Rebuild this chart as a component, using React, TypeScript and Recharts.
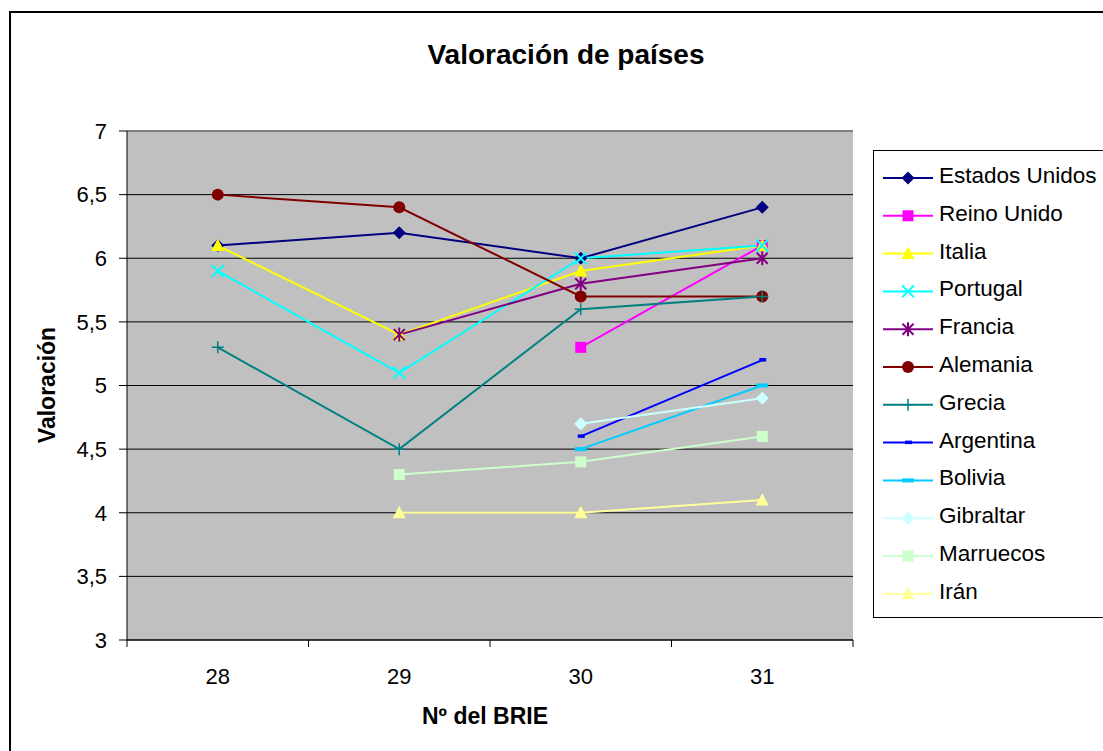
import React from "react";
import { LineChart, Line, XAxis, YAxis, CartesianGrid, ReferenceLine } from "recharts";

const categories = ["28", "29", "30", "31"];
const yTicks = [3, 3.5, 4, 4.5, 5, 5.5, 6, 6.5, 7];

const estadosUnidos = [6.1, 6.2, 6.0, 6.4];
const reinoUnido = [null, null, 5.3, 6.1];
const italia = [6.1, 5.4, 5.9, 6.1];
const portugal = [5.9, 5.1, 6.0, 6.1];
const francia = [null, 5.4, 5.8, 6.0];
const alemania = [6.5, 6.4, 5.7, 5.7];
const grecia = [5.3, 4.5, 5.6, 5.7];
const argentina = [null, null, 4.6, 5.2];
const bolivia = [null, null, 4.5, 5.0];
const gibraltar = [null, null, 4.7, 4.9];
const marruecos = [null, 4.3, 4.4, 4.6];
const iran = [null, 4.0, 4.0, 4.1];

type Marker = "diamond" | "square" | "triangle" | "x" | "star" | "circle" | "plus" | "dash" | "bar";

const series: { name: string; key: string; values: (number | null)[]; color: string; marker: Marker }[] = [
  { name: "Estados Unidos", key: "eu", values: estadosUnidos, color: "#000080", marker: "diamond" },
  { name: "Reino Unido", key: "ru", values: reinoUnido, color: "#FF00FF", marker: "square" },
  { name: "Italia", key: "it", values: italia, color: "#FFFF00", marker: "triangle" },
  { name: "Portugal", key: "pt", values: portugal, color: "#00FFFF", marker: "x" },
  { name: "Francia", key: "fr", values: francia, color: "#800080", marker: "star" },
  { name: "Alemania", key: "de", values: alemania, color: "#800000", marker: "circle" },
  { name: "Grecia", key: "gr", values: grecia, color: "#008080", marker: "plus" },
  { name: "Argentina", key: "ar", values: argentina, color: "#0000FF", marker: "dash" },
  { name: "Bolivia", key: "bo", values: bolivia, color: "#00CCFF", marker: "bar" },
  { name: "Gibraltar", key: "gi", values: gibraltar, color: "#CCFFFF", marker: "diamond" },
  { name: "Marruecos", key: "ma", values: marruecos, color: "#CCFFCC", marker: "square" },
  { name: "Irán", key: "ir", values: iran, color: "#FFFF99", marker: "triangle" },
];

const data = categories.map((c, i) => {
  const row: Record<string, any> = { cat: c };
  series.forEach((s) => (row[s.key] = s.values[i]));
  return row;
});

const FONT = "'Liberation Sans', Arial, sans-serif";
const BAND = 181.5;

function drawMarker(m: Marker, cx: number, cy: number, color: string) {
  switch (m) {
    case "diamond":
      return <path d={`M${cx},${cy - 6.5}L${cx + 6.5},${cy}L${cx},${cy + 6.5}L${cx - 6.5},${cy}Z`} fill={color} />;
    case "square":
      return <rect x={cx - 5.5} y={cy - 5.5} width={11} height={11} fill={color} />;
    case "triangle":
      return <path d={`M${cx},${cy - 7}L${cx + 6.5},${cy + 5.5}L${cx - 6.5},${cy + 5.5}Z`} fill={color} />;
    case "x":
      return (
        <path d={`M${cx - 6},${cy - 6}L${cx + 6},${cy + 6}M${cx + 6},${cy - 6}L${cx - 6},${cy + 6}`} stroke={color} strokeWidth={2} />
      );
    case "star":
      return (
        <path
          d={`M${cx - 5.5},${cy - 5.5}L${cx + 5.5},${cy + 5.5}M${cx + 5.5},${cy - 5.5}L${cx - 5.5},${cy + 5.5}M${cx},${cy - 7}L${cx},${cy + 7}`}
          stroke={color}
          strokeWidth={2}
        />
      );
    case "circle":
      return <circle cx={cx} cy={cy} r={6} fill={color} />;
    case "plus":
      return <path d={`M${cx - 6},${cy}L${cx + 6},${cy}M${cx},${cy - 6}L${cx},${cy + 6}`} stroke={color} strokeWidth={1.5} />;
    case "dash":
      return <rect x={cx - 3} y={cy - 2} width={7} height={3.5} fill={color} />;
    case "bar":
      return <rect x={cx - 6} y={cy - 2} width={12} height={4} fill={color} />;
  }
}

const makeDot = (m: Marker, color: string) => (props: any) => {
  const { cx, cy, index } = props;
  if (cx == null || cy == null || props.value == null) return <g key={`d${index}`} />;
  return <g key={`d${index}`}>{drawMarker(m, cx, cy, color)}</g>;
};

const CatTick = (props: any) => {
  const { x, y, payload, index } = props;
  return (
    <g>
      <line x1={x - BAND / 2} y1={y} x2={x - BAND / 2} y2={y + 7} stroke="#000" />
      {index === categories.length - 1 && <line x1={x + BAND / 2} y1={y} x2={x + BAND / 2} y2={y + 7} stroke="#000" />}
      <text x={x} y={y + 44} textAnchor="middle" fontSize={22} fontFamily={FONT} fill="#000">
        {payload.value}
      </text>
    </g>
  );
};

export default function App() {
  return (
    <div style={{ position: "absolute", left: 0, top: 0, width: 1103, height: 751, background: "#fff", overflow: "hidden" }}>
      <div
        style={{
          position: "absolute",
          left: 9,
          top: 11,
          width: 1110,
          height: 760,
          border: "2px solid #000",
        }}
      />
      <LineChart
        width={1103}
        height={751}
        data={data}
        margin={{ top: 131, right: 250, bottom: 41, left: 67 }}
        style={{ position: "absolute", left: 0, top: 0 }}
      >
        <text x={566} y={64} textAnchor="middle" fontSize={28} fontWeight="bold" fontFamily={FONT} fill="#000">
          Valoración de países
        </text>
        <CartesianGrid vertical={false} stroke="#000" fill="#C0C0C0" fillOpacity={1} />
        <XAxis
          dataKey="cat"
          height={70}
          padding={{ left: BAND / 2, right: BAND / 2 }}
          tickLine={false}
          tickSize={0}
          tickMargin={0}
          interval={0}
          axisLine={{ stroke: "#000" }}
          tick={<CatTick />}
          label={(p: any) => (
            <text x={485} y={724} textAnchor="middle" fontSize={23} fontWeight="bold" fontFamily={FONT} fill="#000">
              Nº del BRIE
            </text>
          )}
        />
        <YAxis
          width={60}
          domain={[3, 7]}
          ticks={yTicks}
          interval={0}
          tickSize={8}
          tickMargin={12}
          tickLine={{ stroke: "#000" }}
          axisLine={{ stroke: "#000" }}
          tickFormatter={(v: number) => String(v).replace(".", ",")}
          tick={{ fill: "#000", fontSize: 22, fontFamily: FONT }}
          label={(p: any) => (
            <text
              x={47}
              y={385}
              dominantBaseline="central"
              transform="rotate(-90 47 385)"
              textAnchor="middle"
              fontSize={23}
              fontWeight="bold"
              fontFamily={FONT}
              fill="#000"
            >
              Valoración
            </text>
          )}
        />
        <YAxis
          yAxisId="r"
          orientation="right"
          width={0}
          domain={[3, 7]}
          tick={false}
          tickLine={false}
          axisLine={{ stroke: "#808080", strokeWidth: 2 }}
        />
        <ReferenceLine y={7} stroke="#808080" strokeWidth={2} />
        {series.map((s) => (
          <Line
            key={s.key}
            dataKey={s.key}
            name={s.name}
            stroke={s.color}
            strokeWidth={2}
            dot={makeDot(s.marker, s.color)}
            activeDot={false}
            isAnimationActive={false}
          />
        ))}
      </LineChart>
      <div
        style={{
          position: "absolute",
          left: 873,
          top: 150,
          width: 260,
          height: 466,
          border: "1px solid #000",
          background: "#fff",
        }}
      >
        <svg width={260} height={466} style={{ position: "absolute", left: 0, top: 0 }}>
          {series.map((s, i) => {
            const y = 27 + i * 37.8;
            return (
              <g key={s.key}>
                <line x1={9} y1={y} x2={59} y2={y} stroke={s.color} strokeWidth={2} />
                {drawMarker(s.marker, 34, y, s.color)}
                <text x={65} y={y + 5} fontSize={22.5} fontFamily={FONT} fill="#000">
                  {s.name}
                </text>
              </g>
            );
          })}
        </svg>
      </div>
    </div>
  );
}
